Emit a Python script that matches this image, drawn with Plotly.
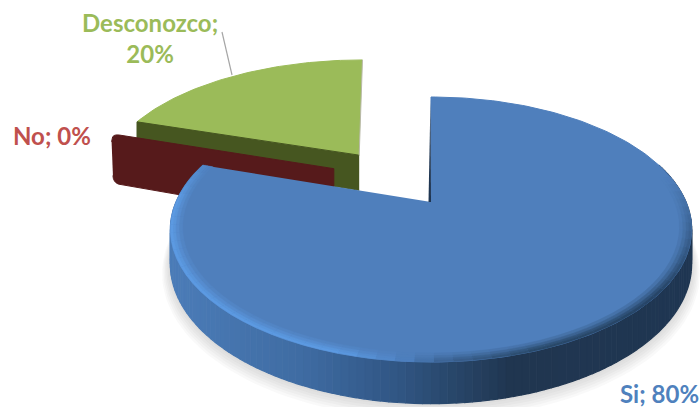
import numpy as np
import plotly.graph_objects as go

# ---- data ----
categories = ["Si", "No", "Desconozco"]
values = [80, 0, 20]
label_text = ["Si; 80%", "No; 0%", "Desconozco;<br>20%"]
top_colors = ["#4F7FBC", "#C0504D", "#9BBB59"]
label_colors = ["#4F81BD", "#C0504D", "#9BBB59"]
wall_colors = ["#2C4C74", "#561A1B", "#465620"]

# ---- view / projection settings ----
CX, CY = 431.0, 202.0
K, SY, SX = 0.2076, 126.8, 255.0
THICK = 33.0
# per-slice explosion offset (plane units), radius and wall height
OFFSET = [(0.0, 0.0), (-0.399, 0.278), (-0.305, 0.40)]
RADIUS = [1.0, 1.06, 1.06]
WALL = [33.0, 56.0, 38.0]


def proj(x, y, drop=0.0):
    d = 1 + K * y
    return CX + SX * x / d, CY - SY * y / d + drop / d


def green_view(sx, sy):
    # the exploded green slice is seen slightly sheared in the reference
    return np.asarray(sx) + 0.093 * (np.asarray(sy) - 155), np.asarray(sy)


def hexrgb(h):
    return np.array([int(h[i:i + 2], 16) for i in (1, 3, 5)], float)


def rgb(c):
    return "#%02x%02x%02x" % tuple(int(round(v)) for v in c)


def ramp(x, xs, cs):
    arr = np.array([hexrgb(c) for c in cs])
    return np.array([np.interp(x, xs, arr[:, i]) for i in range(3)])


WALL_XS = [170, 300, 400, 440, 510, 700]
WALL_CS = ["#4B7CB8", "#3F6CA3", "#305583", "#2A4A70", "#203650", "#1F3652"]
RIM_XS = [170, 340, 400, 450, 540, 700]
RIM_CS = ["#5C9AE2", "#5C9AE2", "#4F82C2", "#3A6190", "#294868", "#264466"]

fig = go.Figure()


def poly(xs, ys, color, lw=1.0):
    fig.add_trace(go.Scatter(
        x=list(xs), y=list(ys), mode="lines", fill="toself", fillcolor=color,
        line=dict(color=color, width=lw), hoverinfo="skip", showlegend=False))


# slice angle spans, clockwise from the far side of the pie
fractions = np.array(values, float) / sum(values)
ends = np.cumsum(fractions) * 2 * np.pi
starts = ends - fractions * 2 * np.pi


def arc(i, a0, a1, r=None, n=60):
    r = RADIUS[i] if r is None else r
    th = np.linspace(a0, a1, n)
    ox, oy = OFFSET[i]
    return ox + r * np.sin(th), oy + r * np.cos(th)


# ---- soft shadow below the large slice ----
for k in range(6, 0, -1):
    x, y = arc(0, np.radians(70), ends[0], r=1 + 0.005 * k, n=100)
    sx, sy = proj(x, y, THICK + k * 1.2)
    poly(list(sx) + [CX], list(sy) + [CY + 20], "rgba(120,120,120,0.045)", lw=0)

# ---- Desconozco: top face and front wall ----
i = 2
x, y = arc(i, starts[i], ends[i])
ox, oy = OFFSET[i]
sx, sy = green_view(*proj(np.r_[ox, x], np.r_[oy, y]))
poly(sx, sy, top_colors[i])
wx = np.array([ox, x[0]])
wy = np.array([oy, y[0]])
tx, ty = green_view(*proj(wx, wy))
_, by = proj(wx, wy, WALL[i])
poly([tx[0], tx[1], tx[1], tx[0]], [ty[0], ty[1], by[1], by[0]], wall_colors[i])
# pale edge on the right of the green slice
ex, ey = green_view(*proj(np.array([ox, x[-1]]), np.array([oy, y[-1]])))
fig.add_trace(go.Scatter(x=ex, y=ey, mode="lines", line=dict(color="#B9B9A8", width=1),
                         hoverinfo="skip", showlegend=False))

# ---- No: zero-width slice, only its wall shows ----
i = 1
ox, oy = OFFSET[i]
a = starts[i]
ends_x = np.array([ox, ox + RADIUS[i] * np.sin(a)])
ends_y = np.array([oy, oy + RADIUS[i] * np.cos(a)])
tx, ty = proj(ends_x, ends_y)
bx, by = proj(ends_x, ends_y, WALL[i])


def corner(p0, p1, p2, n=6):
    t = np.linspace(0, 1, n)[:, None]
    return (1 - t) ** 2 * p0 + 2 * t * (1 - t) * p1 + t ** 2 * p2


A, B = np.array([tx[1] - 1, ty[1]]), np.array([bx[1] + 1, by[1]])
R, Q = np.array([tx[0] - 1, ty[0]]), np.array([tx[0] - 1, by[0]])
u_top = (R - A) / np.linalg.norm(R - A)
u_bot = (Q - B) / np.linalg.norm(Q - B)
u_side = (B - A) / np.linalg.norm(B - A)
c1 = corner(A + u_side * 8, A, A + u_top * 8)
c2 = corner(B + u_bot * 8, B, B - u_side * 8)
pts = np.vstack([c1, R, Q, c2])
poly(pts[:, 0], pts[:, 1], wall_colors[i])

# ---- Si: wall strips, top face, bevel ----
i = 0
edges = np.linspace(np.radians(72), ends[i], 145)
for a0, a1 in zip(edges[:-1], edges[1:]):
    x, y = arc(i, a0, a1, n=3)
    tx, ty = proj(x, y)
    bx, by = proj(x, y, WALL[i])
    c = ramp(tx[1], WALL_XS, WALL_CS)
    poly(np.r_[tx, bx[::-1]], np.r_[ty, by[::-1]], rgb(c), lw=1.2)

x, y = arc(i, starts[i], ends[i], n=240)
sx, sy = proj(np.r_[0, x], np.r_[0, y])
poly(sx, sy, top_colors[i])

top = hexrgb(top_colors[i])
rings = [0.955, 0.968, 0.98, 0.99, 1.0]
ring_alpha = [0.22, 0.5, 0.8, 1.0]
edges = np.linspace(np.radians(78), ends[i], 61)
for r0, r1, al in zip(rings[:-1], rings[1:], ring_alpha):
    for a0, a1 in zip(edges[:-1], edges[1:]):
        mid = (a0 + a1) / 2
        fade = np.clip((np.degrees(mid) - 78) / 50, 0, 1) * np.clip((ends[i] - mid) / np.radians(22) + 0.25, 0, 1)
        xo, yo = arc(i, a0, a1, r=r1, n=3)
        xi, yi = arc(i, a0, a1, r=r0, n=3)
        px, py = proj(np.r_[xo, xi[::-1]], np.r_[yo, yi[::-1]])
        c = ramp(px[1], RIM_XS, RIM_CS)
        poly(px, py, rgb(top + (c - top) * al * fade), lw=0.5)

# thin dark sliver along the vertical cut of the large slice
x, y = arc(i, starts[i], starts[i], n=2)
sx, sy = proj(np.array([0, x[0]]), np.array([0, y[0]]))
poly([sx[0] - 2.5, sx[1] - 0.5, sx[0]], [sy[0], sy[1] + 2, sy[0]], "#1F3652", lw=0)

# ---- leader line of Desconozco ----
fig.add_shape(type="line", x0=232, y0=75, x1=222, y1=32, line=dict(color="#A6A6A6", width=1.2))

# ---- labels ----
LABEL_POS = [(659, 393), (52, 135), (150, 38)]
for t, c, (lx, ly) in zip(label_text, label_colors, LABEL_POS):
    fig.add_annotation(x=lx, y=ly, text="<b>%s</b>" % t, showarrow=False,
                       font=dict(family="Lato, Carlito, sans-serif", size=24, color=c),
                       xanchor="center", yanchor="middle", align="center")

fig.update_layout(
    width=700, height=407, margin=dict(l=0, r=0, t=0, b=0),
    paper_bgcolor="white", plot_bgcolor="white", showlegend=False,
    xaxis=dict(range=[0, 700], visible=False, fixedrange=True),
    yaxis=dict(range=[407, 0], visible=False, fixedrange=True),
)
fig.write_html("out.html", config={"displayModeBar": False},
               post_script="document.body.style.margin='0';document.documentElement.style.overflow='hidden';")
